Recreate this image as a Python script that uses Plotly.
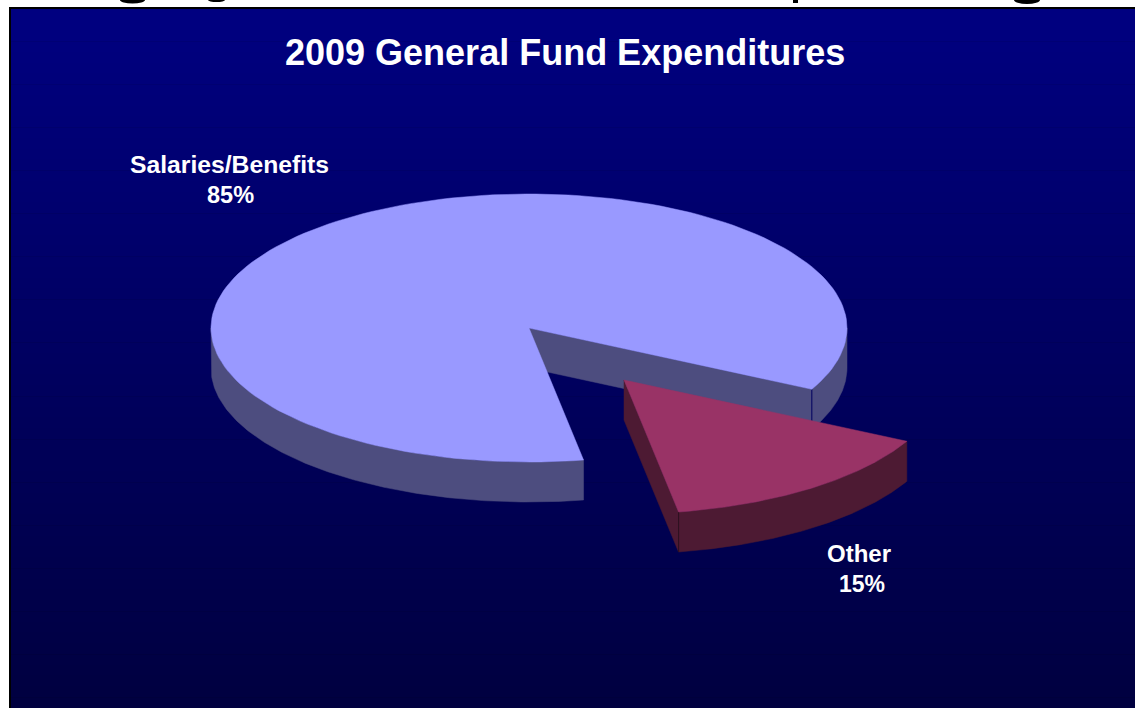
import numpy as np
import plotly.graph_objects as go

# ---- data ----
categories = ["Salaries/Benefits", "Other"]
values = [85.3, 14.7]
percent_labels = ["85%", "15%"]
title_text = "2009 General Fund Expenditures"

# ---- style / projection of the tilted pie ----
TOP_COL = ["#9999FF", "#993366"]
WALL_COL = ["#4D4D7F", "#4D1A33"]
CX, CY, RX, RY, DEPTH = 529, 328, 318, 134, 40
OFFSET = (95, 52)          # exploded slice
START = 27.2               # degrees clockwise from +x, on screen
W, H = 1135, 708
PANEL_X, PANEL_Y = 11, 9
FONT = "Liberation Sans, Arial, sans-serif"


def arc(a0, a1, dx=0, dy=0):
    t = np.radians(np.linspace(a0, a1, 160))
    return CX + dx + RX * np.cos(t), CY + dy + RY * np.sin(t)


def poly(x, y, color):
    return go.Scatter(x=list(x) + [x[0]], y=list(y) + [y[0]], mode="lines", fill="toself",
                      fillcolor=color, line=dict(color=color, width=0.5), hoverinfo="skip",
                      showlegend=False)


def wall_arc(a0, a1, dx, dy, color):
    x, y = arc(a0, a1, dx, dy)
    return poly(np.r_[x, x[::-1]], np.r_[y, y[::-1] + DEPTH], color)


def wall_radial(a, dx, dy, color):
    x, y = arc(a, a, dx, dy)
    ex, ey = x[0], y[0]
    cx, cy = CX + dx, CY + dy
    return poly([cx, ex, ex, cx], [cy, ey, ey + DEPTH, cy + DEPTH], color)


def top(a0, a1, dx, dy, color):
    x, y = arc(a0, a1, dx, dy)
    return poly(np.r_[CX + dx, x], np.r_[CY + dy, y], color)


def seam(a, dx, dy, color):
    x, y = arc(a, a, dx, dy)
    return go.Scatter(x=[x[0], x[0]], y=[y[0], y[0] + DEPTH], mode="lines",
                      line=dict(color=color, width=1), hoverinfo="skip", showlegend=False)


other_span = values[1] / sum(values) * 360
a_other0, a_other1 = START, START + other_span
main0, main1 = a_other1, START + 360

traces = [
    # main slice: walls then top
    wall_radial(START, 0, 0, WALL_COL[0]),
    wall_arc(main0, 180, 0, 0, WALL_COL[0]),
    wall_arc(0, START, 0, 0, WALL_COL[0]),
    seam(START, 0, 0, "#000060"),
    top(main0, main1, 0, 0, TOP_COL[0]),
    # exploded slice
    wall_radial(a_other1, *OFFSET, WALL_COL[1]),
    wall_arc(a_other0, a_other1, *OFFSET, WALL_COL[1]),
    seam(a_other1, *OFFSET, "#2E1020"),
    top(a_other0, a_other1, *OFFSET, TOP_COL[1]),
]
fig = go.Figure(traces)

# ---- background: black frame and vertical gradient ----
shapes = [dict(type="rect", xref="x", yref="y", x0=PANEL_X - 2, x1=W, y0=PANEL_Y - 2, y1=H,
               fillcolor="#000000", line_width=0, layer="below")]
bands = 65
for i in range(bands):
    y0 = PANEL_Y + (H - PANEL_Y) * i / bands
    y1 = PANEL_Y + (H - PANEL_Y) * (i + 1) / bands
    blue = 128 - round(64 * i / (bands - 1))
    shapes.append(dict(type="rect", xref="x", yref="y", x0=PANEL_X, x1=W, y0=y0, y1=y1 + 0.5,
                       fillcolor=f"rgb(0,0,{blue})", line_width=0, layer="below"))
# descenders of the cropped slide headline above the panel
for x0, x1, depth in [(120, 145, 3.5), (208, 225, 2), (1014, 1040, 4)]:
    shapes.append(dict(type="circle", xref="x", yref="y", x0=x0, x1=x1, y0=-depth, y1=depth,
                       fillcolor="#000000", line_width=0, layer="below"))
shapes.append(dict(type="rect", xref="x", yref="y", x0=793, x1=798, y0=0, y1=3,
                   fillcolor="#000000", line_width=0, layer="below"))


def label(text, x, y, size):
    return dict(text=text, x=x, y=y, xref="x", yref="y", showarrow=False, xanchor="center",
                yanchor="middle", font=dict(family=FONT, size=size, color="#FFFFFF", weight="bold"))


annotations = [
    label(title_text, 565, 52, 36),
    label(categories[0], 229.5, 164, 24.7),
    label(percent_labels[0], 230.5, 195, 23.5),
    label(categories[1], 859, 553, 24),
    label(percent_labels[1], 862, 584, 23),
]

fig.update_layout(
    width=W, height=H, margin=dict(l=0, r=0, t=0, b=0),
    paper_bgcolor="#FFFFFF", plot_bgcolor="rgba(0,0,0,0)",
    xaxis=dict(range=[0, W], visible=False, fixedrange=True),
    yaxis=dict(range=[H, 0], visible=False, fixedrange=True),
    shapes=shapes, annotations=annotations, showlegend=False,
)
fig.write_html("out.html", config={"displayModeBar": False},
               post_script="document.body.style.margin='0';document.documentElement.style.overflow='hidden';")
